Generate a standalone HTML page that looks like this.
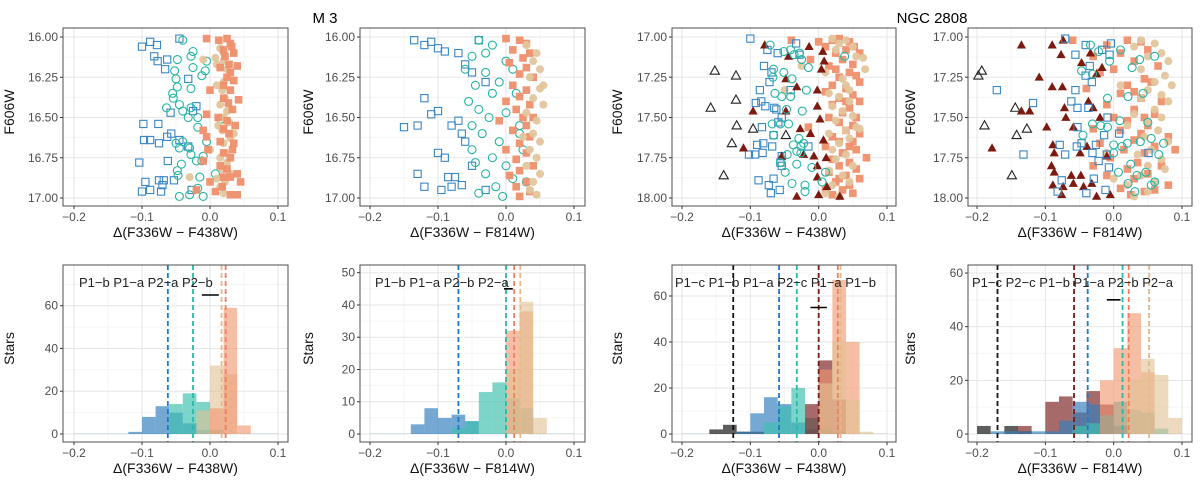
<!DOCTYPE html>
<html><head><meta charset="utf-8">
<style>
html,body{margin:0;padding:0;background:#fff;}
svg{display:block;font-family:"Liberation Sans",sans-serif;}
</style></head>
<body>
<svg id="chart" width="1200" height="484" viewBox="0 0 1200 484" xmlns="http://www.w3.org/2000/svg">
<text x="325" y="23" font-size="15" text-anchor="middle">M 3</text>
<text x="932" y="23" font-size="15" text-anchor="middle">NGC 2808</text>
</svg>
<script>
// ---------------- DATA ----------------
const xTicks = [-0.2, -0.1, 0.0, 0.1];
const xTickLabels = ["\u22120.2", "\u22120.1", "0.0", "0.1"];
const yTicksM3 = [16.00, 16.25, 16.50, 16.75, 17.00];
const yTicksNGC = [17.00, 17.25, 17.50, 17.75, 18.00];
const binStarts = [-0.20,-0.18,-0.16,-0.14,-0.12,-0.10,-0.08,-0.06,-0.04,-0.02,0.00,0.02,0.04,0.06,0.08];
const binWidth = 0.02;

// M3 F438W scatter
const m3aBlue = [[-0.10,16.06],[-0.088,16.03],[-0.078,16.05],[-0.082,16.12],[-0.077,16.15],[-0.063,16.14],[-0.066,16.20],[-0.045,16.01],[-0.032,16.26],[-0.02,16.43],[-0.058,16.47],[-0.025,16.46],[-0.098,16.54],[-0.076,16.54],[-0.057,16.60],[-0.097,16.64],[-0.088,16.64],[-0.075,16.66],[-0.063,16.62],[-0.032,16.68],[-0.104,16.78],[-0.062,16.77],[-0.095,16.90],[-0.075,16.89],[-0.068,16.89],[-0.053,16.89],[-0.07,16.92],[-0.1,16.96],[-0.088,16.95],[-0.072,16.96],[-0.027,16.95],[-0.045,16.64]];
const m3aTeal = [[-0.04,16.02],[-0.025,16.09],[-0.028,16.12],[-0.048,16.14],[-0.005,16.15],[-0.052,16.21],[-0.025,16.19],[-0.007,16.21],[-0.012,16.24],[-0.05,16.26],[-0.048,16.31],[-0.028,16.32],[-0.055,16.35],[-0.054,16.38],[-0.045,16.42],[-0.064,16.44],[-0.04,16.46],[-0.028,16.44],[-0.018,16.50],[-0.018,16.56],[-0.005,16.65],[-0.04,16.65],[-0.05,16.66],[-0.045,16.69],[-0.03,16.69],[-0.028,16.73],[-0.02,16.77],[-0.01,16.74],[-0.042,16.79],[-0.048,16.83],[-0.047,16.86],[-0.012,16.77],[0.008,16.85],[-0.018,16.94],[-0.01,16.99],[-0.03,16.98],[-0.045,16.99],[-0.015,16.87],[0.016,16.51],[-0.032,16.5]];
const m3aSalmon = [[-0.005,16.01],[0.013,16.02],[0.025,16.01],[0.03,16.04],[0.02,16.08],[0.032,16.06],[0.035,16.10],[0.022,16.12],[0.015,16.19],[0.028,16.17],[0.04,16.18],[0.03,16.22],[0.025,16.25],[0.035,16.27],[0.02,16.3],[0.0,16.33],[0.03,16.33],[0.02,16.38],[0.042,16.39],[0.027,16.41],[0.033,16.45],[0.012,16.5],[-0.005,16.48],[0.025,16.52],[0.037,16.55],[0.02,16.57],[-0.01,16.58],[-0.005,16.62],[0.028,16.6],[0.015,16.65],[0.035,16.66],[-0.003,16.7],[0.02,16.72],[0.03,16.75],[-0.01,16.77],[0.015,16.8],[0.025,16.82],[0.04,16.85],[0.03,16.87],[0.0,16.9],[0.018,16.93],[0.045,16.9],[0.008,16.96],[0.03,16.98],[-0.02,16.95],[0.04,16.98],[0.02,16.87],[0.033,16.7]];
const m3aTan = [[0.015,16.07],[0.02,16.10],[0.008,16.13],[0.02,16.15],[0.01,16.17],[-0.01,16.14],[0.025,16.2],[0.02,16.28],[0.018,16.33],[0.022,16.38],[0.015,16.42],[0.025,16.46],[0.02,16.5],[0.028,16.53],[0.018,16.58],[0.03,16.63],[0.02,16.66],[0.0,16.7],[0.015,16.75],[0.025,16.78],[0.018,16.82],[0.03,16.85],[0.01,16.88],[0.022,16.9],[-0.03,16.87],[0.015,16.93],[0.02,16.97],[0.028,16.45],[0.035,16.6],[0.012,16.55],[0.023,16.72],[0.01,16.3]];

// M3 F814W scatter
const m3bBlue = [[-0.135,16.02],[-0.12,16.05],[-0.11,16.03],[-0.1,16.07],[-0.09,16.09],[-0.07,16.1],[-0.04,16.02],[-0.06,16.17],[-0.05,16.22],[-0.03,16.28],[-0.12,16.38],[-0.1,16.46],[-0.11,16.48],[-0.13,16.55],[-0.07,16.52],[-0.08,16.55],[-0.065,16.6],[-0.15,16.56],[-0.06,16.65],[-0.1,16.72],[-0.09,16.75],[-0.13,16.85],[-0.085,16.87],[-0.075,16.87],[-0.065,16.92],[-0.12,16.93],[-0.095,16.95],[-0.08,16.93],[-0.03,16.95],[-0.05,16.8]];
const m3bTeal = [[-0.04,16.02],[-0.02,16.05],[-0.03,16.1],[-0.05,16.12],[0.0,16.15],[-0.06,16.2],[-0.03,16.22],[0.01,16.2],[-0.045,16.3],[-0.02,16.35],[-0.055,16.4],[-0.04,16.45],[0.0,16.47],[-0.025,16.5],[-0.05,16.55],[0.02,16.55],[-0.035,16.6],[-0.01,16.65],[-0.05,16.7],[0.025,16.7],[-0.02,16.75],[-0.045,16.78],[0.0,16.8],[-0.03,16.85],[0.01,16.88],[-0.015,16.93],[-0.04,16.97],[0.03,16.9],[-0.005,16.99],[0.015,16.35],[-0.01,16.28],[0.02,16.6]];
const m3bSalmon = [[0.0,16.01],[0.02,16.02],[0.03,16.04],[0.01,16.08],[0.035,16.1],[0.025,16.13],[0.005,16.16],[0.03,16.19],[0.02,16.23],[0.04,16.25],[0.01,16.3],[0.03,16.33],[0.02,16.37],[0.0,16.4],[0.035,16.42],[0.015,16.45],[0.025,16.5],[-0.01,16.52],[0.03,16.55],[0.01,16.58],[0.035,16.62],[0.02,16.66],[0.0,16.7],[0.03,16.72],[0.015,16.76],[0.04,16.8],[0.02,16.83],[0.005,16.86],[0.03,16.9],[0.015,16.93],[0.035,16.96],[0.02,16.99],[0.04,16.5]];
const m3bTan = [[0.03,16.05],[0.045,16.1],[0.04,16.15],[0.05,16.2],[0.035,16.25],[0.05,16.32],[0.04,16.38],[0.055,16.42],[0.03,16.47],[0.045,16.52],[0.04,16.6],[0.05,16.65],[0.035,16.7],[0.045,16.75],[0.03,16.8],[0.05,16.85],[0.04,16.9],[0.035,16.95],[0.045,16.98],[0.025,16.62],[0.055,16.3]];

// NGC 2808 F438W scatter
const ngcaBlack = [[-0.152,17.21],[-0.121,17.24],[-0.121,17.39],[-0.158,17.44],[-0.120,17.55],[-0.096,17.57],[-0.048,17.61],[-0.127,17.66],[-0.139,17.86]];
const ngcaRed = [[-0.079,17.05],[-0.014,17.06],[-0.044,17.12],[0.006,17.09],[0.008,17.15],[0.004,17.2],[-0.048,17.26],[-0.032,17.31],[-0.002,17.33],[-0.096,17.46],[-0.048,17.46],[-0.002,17.43],[-0.027,17.57],[-0.012,17.6],[-0.11,17.69],[-0.054,17.74],[-0.022,17.73],[-0.007,17.74],[0.011,17.75],[-0.002,17.8],[-0.002,17.87],[-0.032,17.99],[0.0,17.98],[0.031,17.99],[0.012,17.93],[0.002,17.51],[0.007,17.64]];
const ngcaBlue = [[-0.1,17.01],[-0.033,17.04],[-0.075,17.08],[-0.06,17.1],[-0.028,17.11],[-0.08,17.18],[-0.069,17.22],[-0.072,17.28],[-0.086,17.33],[-0.041,17.33],[-0.092,17.41],[-0.084,17.4],[-0.078,17.43],[-0.065,17.44],[-0.062,17.45],[-0.054,17.5],[-0.059,17.53],[-0.083,17.56],[-0.066,17.61],[-0.09,17.67],[-0.081,17.66],[-0.068,17.68],[-0.102,17.73],[-0.093,17.73],[-0.082,17.72],[-0.054,17.74],[-0.056,17.78],[-0.054,17.8],[-0.088,17.89],[-0.073,17.92],[-0.066,17.88],[-0.07,17.97],[-0.057,17.95],[-0.015,17.68]];
const ngcaTeal = [[-0.071,17.05],[-0.051,17.09],[-0.041,17.08],[-0.036,17.11],[-0.025,17.14],[-0.066,17.2],[-0.051,17.22],[-0.015,17.19],[-0.067,17.25],[-0.039,17.26],[-0.064,17.35],[-0.054,17.37],[-0.041,17.37],[-0.018,17.33],[-0.047,17.45],[-0.024,17.46],[-0.068,17.54],[-0.056,17.54],[-0.044,17.54],[-0.066,17.61],[-0.029,17.63],[-0.037,17.67],[-0.026,17.68],[-0.022,17.66],[-0.032,17.71],[-0.026,17.72],[-0.046,17.73],[-0.056,17.78],[-0.032,17.79],[-0.049,17.84],[-0.01,17.81],[0.01,17.84],[-0.039,17.91],[-0.02,17.92],[-0.02,17.96],[0.005,17.9],[0.038,17.12],[-0.028,17.1]];
const ngcaSalmon = [[-0.04,17.02],[0.0,17.03],[0.02,17.02],[0.03,17.01],[0.045,17.03],[0.052,17.06],[0.01,17.06],[0.04,17.08],[0.06,17.1],[0.025,17.1],[-0.012,17.14],[0.035,17.14],[0.05,17.17],[0.015,17.18],[0.045,17.22],[0.055,17.24],[0.03,17.25],[0.06,17.28],[0.02,17.3],[0.04,17.32],[0.01,17.34],[0.05,17.36],[0.03,17.38],[0.06,17.4],[0.02,17.42],[0.045,17.44],[0.035,17.47],[0.055,17.5],[0.015,17.5],[0.03,17.53],[0.05,17.55],[-0.015,17.56],[0.04,17.58],[0.06,17.6],[0.02,17.62],[0.03,17.65],[0.045,17.68],[0.01,17.68],[0.055,17.7],[0.035,17.72],[0.07,17.75],[0.02,17.76],[0.045,17.78],[0.03,17.8],[0.055,17.82],[0.015,17.84],[0.04,17.86],[0.06,17.88],[0.025,17.9],[0.045,17.92],[0.035,17.95],[0.05,17.97],[0.02,17.98],[0.01,17.95],[0.04,17.4],[0.025,17.2],[0.05,17.65],[0.03,17.88]];
const ngcaTan = [[0.02,17.01],[0.04,17.02],[0.03,17.04],[0.05,17.06],[0.025,17.08],[0.055,17.12],[0.065,17.13],[0.068,17.2],[-0.025,17.18],[0.01,17.22],[0.035,17.26],[0.04,17.3],[0.045,17.33],[0.015,17.35],[-0.05,17.33],[0.03,17.37],[0.045,17.4],[0.02,17.43],[0.035,17.46],[0.05,17.49],[0.025,17.52],[0.055,17.56],[0.04,17.58],[0.015,17.6],[0.045,17.63],[0.03,17.66],[0.02,17.7],[0.04,17.73],[0.025,17.76],[0.05,17.8],[0.015,17.83],[0.035,17.86],[0.045,17.9],[0.02,17.92],[0.01,17.97],[0.03,17.99],[0.06,17.57]];

// NGC 2808 F814W scatter
const ngcbBlack = [[-0.193,17.21],[-0.198,17.24],[-0.144,17.44],[-0.189,17.55],[-0.127,17.57],[-0.142,17.61],[-0.149,17.86]];
const ngcbRed = [[-0.135,17.05],[-0.09,17.05],[-0.074,17.02],[-0.077,17.11],[-0.109,17.25],[-0.09,17.31],[-0.075,17.31],[-0.135,17.46],[-0.123,17.46],[-0.072,17.44],[-0.07,17.5],[-0.098,17.56],[-0.059,17.56],[-0.178,17.69],[-0.087,17.72],[-0.089,17.67],[-0.049,17.72],[-0.091,17.8],[-0.087,17.84],[-0.062,17.86],[-0.048,17.86],[-0.089,17.92],[-0.074,17.93],[-0.076,17.98],[-0.059,17.91],[-0.044,17.93],[-0.025,17.99],[-0.005,17.98],[-0.032,17.91],[-0.017,17.19],[-0.025,17.23],[-0.037,17.4],[-0.03,17.44],[-0.02,17.5],[-0.039,17.68],[-0.01,17.74],[-0.034,17.1],[-0.047,17.16]];
const ngcbBlue = [[-0.071,17.01],[-0.041,17.05],[-0.004,17.04],[-0.056,17.11],[-0.017,17.08],[-0.006,17.11],[-0.035,17.18],[-0.041,17.24],[-0.032,17.28],[-0.171,17.33],[-0.056,17.33],[-0.118,17.41],[-0.062,17.4],[-0.053,17.44],[-0.037,17.44],[-0.009,17.5],[-0.014,17.61],[0.008,17.6],[-0.053,17.56],[-0.047,17.66],[-0.079,17.67],[-0.071,17.73],[-0.054,17.68],[-0.026,17.67],[-0.132,17.73],[-0.031,17.72],[-0.01,17.73],[-0.022,17.77],[-0.007,17.81],[-0.029,17.88],[-0.076,17.89],[-0.082,17.96],[-0.04,17.97],[-0.012,17.95],[0.051,17.72]];
const ngcbTeal = [[-0.034,17.05],[-0.022,17.09],[0.01,17.08],[-0.006,17.15],[0.038,17.14],[0.06,17.12],[0.027,17.19],[-0.047,17.21],[-0.031,17.23],[-0.009,17.38],[0.021,17.37],[0.043,17.35],[-0.031,17.54],[-0.019,17.55],[0.009,17.52],[0.05,17.53],[-0.045,17.61],[0.0,17.67],[0.012,17.68],[0.02,17.66],[0.039,17.65],[0.055,17.63],[0.073,17.66],[0.0,17.72],[0.025,17.79],[0.007,17.84],[0.034,17.86],[0.047,17.84],[0.021,17.91],[0.031,17.96],[0.055,17.92],[0.06,17.9],[0.066,17.73],[-0.009,17.56]];
const ngcbSalmon = [[-0.06,17.02],[0.02,17.02],[-0.01,17.05],[0.04,17.03],[0.01,17.1],[-0.03,17.12],[0.05,17.08],[0.03,17.15],[0.065,17.18],[0.0,17.2],[-0.02,17.22],[0.045,17.26],[0.02,17.3],[0.055,17.28],[-0.04,17.32],[0.01,17.35],[0.04,17.38],[0.07,17.4],[-0.01,17.42],[0.03,17.45],[0.06,17.48],[0.0,17.5],[0.02,17.52],[0.05,17.55],[-0.03,17.57],[0.01,17.58],[0.04,17.6],[0.08,17.62],[0.03,17.64],[-0.02,17.66],[0.06,17.68],[0.015,17.7],[0.045,17.72],[-0.005,17.75],[0.035,17.78],[0.07,17.8],[0.02,17.82],[0.05,17.85],[-0.01,17.86],[0.03,17.88],[0.08,17.92],[0.01,17.94],[0.045,17.96],[0.025,17.98],[0.06,17.95],[-0.03,17.8],[0.09,17.7],[0.03,17.34],[0.045,17.5]];
const ngcbTan = [[0.04,17.02],[0.06,17.04],[0.03,17.06],[0.07,17.1],[0.05,17.12],[0.08,17.15],[0.04,17.2],[0.075,17.24],[0.06,17.28],[0.085,17.3],[0.05,17.33],[0.07,17.36],[0.04,17.38],[0.08,17.4],[0.06,17.45],[0.03,17.48],[0.07,17.5],[0.05,17.53],[0.02,17.55],[0.065,17.58],[0.045,17.62],[0.08,17.65],[0.055,17.7],[0.035,17.73],[0.07,17.76],[0.05,17.8],[0.075,17.82],[0.04,17.86],[0.06,17.9],[0.02,17.92],[0.05,17.96],[0.03,17.99],[0.0,17.88],[-0.01,17.72],[0.01,17.3]];

// Histogram counts (bins of binStarts)
const h1Blue   = [0,0,0,0,1,8,13,10,5,2,0,0,0,0,0];
const h1Teal   = [0,0,0,0,0,0,0,14,19,15,2,0,0,0,0];
const h1Tan    = [0,0,0,0,0,0,0,0,0,11,32,28,0,0,0];
const h1Salmon = [0,0,0,0,0,0,0,0,0,0,12,59,4,0,0];
const h2Blue   = [0,0,0,3,8,5,6,4,0,0,0,0,0,0,0];
const h2Teal   = [0,0,0,0,0,0,2,4,13,16,11,8,0,0,0];
const h2Salmon = [0,0,0,0,0,0,0,0,0,0,32,38,0,0,0];
const h2Tan    = [0,0,0,0,0,0,0,0,0,0,20,41,5,0,0];
const h3Black  = [0,0,2,4,1,1,0,0,0,0,0,0,0,0,0];
const h3Blue   = [0,0,0,0,1,9,16,13,5,2,0,0,0,0,0];
const h3Teal   = [0,0,0,0,0,0,5,12,20,7,3,1,0,0,0];
const h3Red    = [0,0,0,0,0,0,0,0,0,13,32,15,0,0,0];
const h3Salmon = [0,0,0,0,0,0,0,0,0,0,28,67,40,0,0];
const h3Tan    = [0,0,0,0,0,0,0,0,0,0,22,40,15,1,0];
const h4Black  = [3,0,3,1,0,0,0,0,0,0,0,0,0,0,0];
const h4Blue   = [0,1,1,1,1,1,5,12,11,7,3,0,0,0,0];
const h4Red    = [0,0,0,3,0,12,14,8,16,11,0,0,0,0,0];
const h4Teal   = [0,0,0,0,0,0,0,3,4,7,12,9,8,2,0];
const h4Salmon = [0,0,0,0,0,0,0,0,0,20,32,45,23,0,0];
const h4Tan    = [0,0,0,0,0,0,0,0,0,0,0,20,28,22,6];

// Vertical mean lines
const v1 = [-0.062,-0.025,0.017,0.023];
const v2 = [-0.07,0.0,0.012,0.021];
const v3 = [-0.125,-0.058,-0.032,0.0,0.028,0.032];
const v4 = [-0.17,-0.058,-0.038,0.013,0.022,0.052];
const err1 = [65,-0.012,0.013];
const err2 = [45,-0.003,0.01];
const err3 = [55,-0.012,0.012];
const err4 = [50,-0.01,0.01];
const lab1 = "P1\u2212b P1\u2212a P2\u2212a P2\u2212b";
const lab2 = "P1\u2212b P1\u2212a P2\u2212b P2\u2212a";
const lab3 = "P1\u2212c P1\u2212b P1\u2212a P2\u2212c P1\u2212a P1\u2212b";
const lab4 = "P1\u2212c P2\u2212c P1\u2212b P1\u2212a P2\u2212b P2\u2212a";
const yTicksH1 = [0,20,40,60];
const yTicksH2 = [0,10,20,30,40,50];
const yTicksH3 = [0,20,40,60];
const yTicksH4 = [0,20,40,60];

// ---------------- STYLE / LAYOUT ----------------
const C = {
  blue:'#3a87c6', teal:'#26b5a3', salmon:'#ef8f6b', tan:'#e2c59c', red:'#7d1a10', black:'#222',
  hblue:'rgba(52,128,190,0.68)', hteal:'rgba(64,192,176,0.68)', hsalmon:'rgba(242,150,112,0.62)',
  htan:'rgba(226,194,148,0.62)', hred:'rgba(125,35,35,0.68)', hblack:'rgba(40,40,40,0.75)',
  lblue:'#1f78c8', lteal:'#2ab9a8', ltan:'#e2bb8c', lsalmon:'#f08060', lred:'#7a1a14', lblack:'#111'
};
const cols = [
  {bl:63, br:288, x0:74, x1:278, title:"\u0394(F336W \u2212 F438W)", yt:14},
  {bl:360, br:585, x0:370, x1:574, title:"\u0394(F336W \u2212 F814W)", yt:313},
  {bl:672, br:896, x0:682, x1:887, title:"\u0394(F336W \u2212 F438W)", yt:622},
  {bl:968, br:1192, x0:977, x1:1182, title:"\u0394(F336W \u2212 F814W)", yt:915}
];
const NS = 'http://www.w3.org/2000/svg';
const svg = document.getElementById('chart');
function mk(tag, attrs, parent){
  const e = document.createElementNS(NS, tag);
  for (const k in attrs) e.setAttribute(k, attrs[k]);
  (parent||svg).appendChild(e);
  return e;
}
function xScale(col){ return v => col.x0 + (v + 0.2) / 0.3 * (col.x1 - col.x0); }

function frame(g, col, top, bot, yvals, ylabels, ysc, ytitle, minorY){
  const xs = xScale(col);
  const bg = mk('rect',{x:col.bl,y:top,width:col.br-col.bl,height:bot-top,fill:'#fff'},g);
  
  
  // minor grids
  [-0.15,-0.05,0.05].forEach(v=>mk('line',{x1:xs(v),x2:xs(v),y1:top,y2:bot,stroke:'#f3f3f3','stroke-width':0.8},g));
  minorY.forEach(v=>mk('line',{x1:col.bl,x2:col.br,y1:ysc(v),y2:ysc(v),stroke:'#f3f3f3','stroke-width':0.8},g));
  xTicks.forEach(v=>mk('line',{x1:xs(v),x2:xs(v),y1:top,y2:bot,stroke:'#e6e6e6','stroke-width':1},g));
  yvals.forEach(v=>mk('line',{x1:col.bl,x2:col.br,y1:ysc(v),y2:ysc(v),stroke:'#e6e6e6','stroke-width':1},g));
  // ticks & labels
  xTicks.forEach((v,i)=>{
    mk('line',{x1:xs(v),x2:xs(v),y1:bot,y2:bot+3,stroke:'#333'},g);
    const t = mk('text',{x:xs(v),y:bot+15,'font-size':12,fill:'#4d4d4d','text-anchor':'middle'},g);
    t.textContent = xTickLabels[i];
    
    
  });
  yvals.forEach((v,i)=>{
    mk('line',{x1:col.bl-3,x2:col.bl,y1:ysc(v),y2:ysc(v),stroke:'#333'},g);
    const t = mk('text',{x:col.bl-5,y:ysc(v)+4,'font-size':12,fill:'#4d4d4d','text-anchor':'end'},g);
    t.textContent = ylabels[i];
    
    
  });
  const xt = mk('text',{x:(col.bl+col.br)/2,y:bot+31,'font-size':14,fill:'#111','text-anchor':'middle'},g);
  xt.textContent = col.title;
  
  
  const yc = (top+bot)/2;
  const yt = mk('text',{x:col.yt+5,y:yc,'font-size':14,fill:'#111','text-anchor':'middle',transform:`rotate(-90 ${col.yt} ${yc})`},g);
  yt.textContent = ytitle;
  
  
}
function border(g,col,top,bot){
  const b = mk('rect',{x:col.bl,y:top,width:col.br-col.bl,height:bot-top,fill:'none',stroke:'#4d4d4d','stroke-width':1},g);
  
  
}

function scatterPanel(ci, series, yticks){
  const col = cols[ci];
  const top=28, bot=206;
  const y0 = yticks[0];
  const ysc = v => 37 + (v - y0) * (198 - 37);
  const g = mk('g',{});
  
  
  const minor = [y0+0.125,y0+0.375,y0+0.625,y0+0.875];
  frame(g,col,top,bot,yticks,yticks.map(v=>v.toFixed(2)),ysc,'F606W',minor);
  const xs = xScale(col);
  series.forEach(s=>{
    const sg = mk('g',{},g);
    
    
    s.data.forEach(p=>{
      const x = xs(p[0]), y = ysc(p[1]);
      let el;
      if (s.shape==='osq') el = mk('rect',{x:x-3.6,y:y-3.6,width:7.2,height:7.2,fill:'none',stroke:s.color,'stroke-width':1.1},sg);
      else if (s.shape==='fsq') el = mk('rect',{x:x-3.8,y:y-3.8,width:7.6,height:7.6,fill:s.color,'fill-opacity':0.95},sg);
      else if (s.shape==='ocirc') el = mk('circle',{cx:x,cy:y,r:4,fill:'none',stroke:s.color,'stroke-width':1.1},sg);
      else if (s.shape==='fcirc') el = mk('circle',{cx:x,cy:y,r:4,fill:s.color,'fill-opacity':0.95},sg);
      else if (s.shape==='ftri') el = mk('polygon',{points:`${x},${y-4.8} ${x-4.6},${y+3.4} ${x+4.6},${y+3.4}`,fill:s.color},sg);
      else el = mk('polygon',{points:`${x},${y-4.8} ${x-4.6},${y+3.4} ${x+4.6},${y+3.4}`,fill:'none',stroke:s.color,'stroke-width':1.1},sg);
      
      
    });
  });
  border(g,col,top,bot);
}

function histPanel(ci, series, yticks, ymaxPx, ymaxVal, vlines, vcolors, err, label, labX){
  const col = cols[ci];
  const top=265, bot=442;
  const ysc = v => 434 - v * (434 - ymaxPx) / ymaxVal;
  const g = mk('g',{});
  
  
  const step = yticks[1]-yticks[0];
  const minor = yticks.map(v=>v+step/2).filter(v=>ysc(v)>top);
  frame(g,col,top,bot,yticks,yticks.map(String),ysc,'Stars',minor);
  const xs = xScale(col);
  // baseline zero-count strip
  mk('rect',{x:xs(-0.2),y:ysc(0)-0.8,width:xs(0.1)-xs(-0.2),height:0.8,fill:'rgba(150,190,200,0.35)'},g);
  series.forEach(s=>{
    const sg = mk('g',{},g);
    
    
    s.data.forEach((c,i)=>{
      if (c<=0) return;
      const xa = xs(binStarts[i]), xb = xs(binStarts[i]+binWidth);
      const r = mk('rect',{x:xa,y:ysc(c),width:xb-xa,height:ysc(0)-ysc(c),fill:s.color},sg);
      
      
    });
  });
  vlines.forEach((v,i)=>{
    const l = mk('line',{x1:xs(v),x2:xs(v),y1:top,y2:bot,stroke:vcolors[i],'stroke-width':1.8,'stroke-dasharray':'5,3'},g);
    
    
  });
  const e = mk('line',{x1:xs(err[1]),x2:xs(err[2]),y1:ysc(err[0]),y2:ysc(err[0]),stroke:'#000','stroke-width':1.6},g);
  
  
  const t = mk('text',{x:labX,y:287,'font-size':13,fill:'#222'},g);
  t.textContent = label;
  
  
  border(g,col,top,bot);
}

scatterPanel(0,[
  {name:'p1b-squares',shape:'osq',color:C.blue,data:m3aBlue},
  {name:'p1a-circles',shape:'ocirc',color:C.teal,data:m3aTeal},
  {name:'p2a-circles',shape:'fcirc',color:C.tan,data:m3aTan},
  {name:'p2b-squares',shape:'fsq',color:C.salmon,data:m3aSalmon}
], yTicksM3);
scatterPanel(1,[
  {name:'p1b-squares',shape:'osq',color:C.blue,data:m3bBlue},
  {name:'p1a-circles',shape:'ocirc',color:C.teal,data:m3bTeal},
  {name:'p2b-squares',shape:'fsq',color:C.salmon,data:m3bSalmon},
  {name:'p2a-circles',shape:'fcirc',color:C.tan,data:m3bTan}
], yTicksM3);
scatterPanel(2,[
  {name:'p2b-squares',shape:'fsq',color:C.salmon,data:ngcaSalmon},
  {name:'p2a-circles',shape:'fcirc',color:C.tan,data:ngcaTan},
  {name:'p1c-triangles',shape:'otri',color:C.black,data:ngcaBlack},
  {name:'p1a-squares',shape:'osq',color:C.blue,data:ngcaBlue},
  {name:'p2c-triangles',shape:'ftri',color:C.red,data:ngcaRed},
  {name:'p1b-circles',shape:'ocirc',color:C.teal,data:ngcaTeal}
], yTicksNGC);
scatterPanel(3,[
  {name:'p2b-squares',shape:'fsq',color:C.salmon,data:ngcbSalmon},
  {name:'p2a-circles',shape:'fcirc',color:C.tan,data:ngcbTan},
  {name:'p1c-triangles',shape:'otri',color:C.black,data:ngcbBlack},
  {name:'p2c-triangles',shape:'ftri',color:C.red,data:ngcbRed},
  {name:'p1a-squares',shape:'osq',color:C.blue,data:ngcbBlue},
  {name:'p1b-circles',shape:'ocirc',color:C.teal,data:ngcbTeal}
], yTicksNGC);

histPanel(0,[
  {name:'hist-p1b',color:C.hblue,data:h1Blue},
  {name:'hist-p1a',color:C.hteal,data:h1Teal},
  {name:'hist-p2a',color:C.htan,data:h1Tan},
  {name:'hist-p2b',color:C.hsalmon,data:h1Salmon}
], yTicksH1, 305.7, 60, v1, [C.lblue,C.lteal,C.ltan,C.lsalmon], err1, lab1, 79);
histPanel(1,[
  {name:'hist-p1b',color:C.hblue,data:h2Blue},
  {name:'hist-p1a',color:C.hteal,data:h2Teal},
  {name:'hist-p2b',color:C.hsalmon,data:h2Salmon},
  {name:'hist-p2a',color:C.htan,data:h2Tan}
], yTicksH2, 272.7, 50, v2, [C.lblue,C.lteal,C.lsalmon,C.ltan], err2, lab2, 375);
histPanel(2,[
  {name:'hist-p1c',color:C.hblack,data:h3Black},
  {name:'hist-p1a',color:C.hblue,data:h3Blue},
  {name:'hist-p1b',color:C.hteal,data:h3Teal},
  {name:'hist-p2c',color:C.hred,data:h3Red},
  {name:'hist-p2b',color:C.hsalmon,data:h3Salmon},
  {name:'hist-p2a',color:C.htan,data:h3Tan}
], yTicksH3, 296, 60, v3, [C.lblack,C.lblue,C.lteal,C.lred,C.lsalmon,C.ltan], err3, lab3, 675);
histPanel(3,[
  {name:'hist-p1c',color:C.hblack,data:h4Black},
  {name:'hist-p2c',color:C.hred,data:h4Red},
  {name:'hist-p1a',color:C.hblue,data:h4Blue},
  {name:'hist-p1b',color:C.hteal,data:h4Teal},
  {name:'hist-p2b',color:C.hsalmon,data:h4Salmon},
  {name:'hist-p2a',color:C.htan,data:h4Tan}
], yTicksH4, 273, 60, v4, [C.lblack,C.lred,C.lblue,C.lteal,C.lsalmon,C.ltan], err4, lab4, 972);
</script>
</body></html>
